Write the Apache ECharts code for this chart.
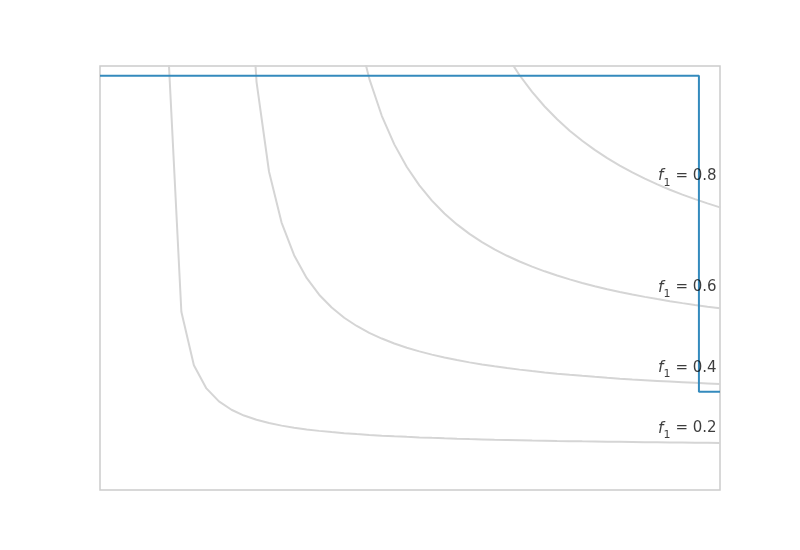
<!DOCTYPE html>
<html>
<head>
<meta charset="utf-8">
<script src="https://cdn.jsdelivr.net/npm/echarts@6/dist/echarts.min.js"></script>
<style>html,body{margin:0;padding:0;background:#fff}#chart{width:800px;height:550px}</style>
</head>
<body>
<div id="chart"></div>
<script>
// recall grid shared by the iso-F1 curves (50 samples from 0.01 to 1)
const recallGrid = [0.01,0.030204,0.050408,0.070612,0.090816,0.11102,0.131224,0.151429,0.171633,0.191837,
  0.212041,0.232245,0.252449,0.272653,0.292857,0.313061,0.333265,0.353469,0.373673,0.393878,
  0.414082,0.434286,0.45449,0.474694,0.494898,0.515102,0.535306,0.55551,0.575714,0.595918,
  0.616122,0.636327,0.656531,0.676735,0.696939,0.717143,0.737347,0.757551,0.777755,0.797959,
  0.818163,0.838367,0.858571,0.878776,0.89898,0.919184,0.939388,0.959592,0.979796,1.0];

// precision values of each iso-F1 curve (last N samples of the grid)
const iso02 = [1.0074,0.42026,0.29445,0.2396,0.20889,0.18925,0.17562,0.1656,0.15792,0.15185,0.14693,0.14287,
  0.13945,0.13654,0.13403,0.13184,0.12991,0.12821,0.12669,0.12532,0.12409,0.12297,0.12195,0.12102,0.12016,
  0.11937,0.11865,0.11797,0.11734,0.11675,0.1162,0.11569,0.11521,0.11475,0.11433,0.11392,0.11354,0.11318,
  0.11284,0.11252,0.11221,0.11191,0.11163,0.11137,0.11111];
const iso04 = [3.522,1.4405,0.96265,0.75057,0.63077,0.55379,0.50015,0.46064,0.43031,0.40632,0.38684,0.37073,
  0.35718,0.34562,0.33564,0.32694,0.31929,0.31251,0.30646,0.30103,0.29613,0.29167,0.28762,0.2839,0.28049,
  0.27735,0.27444,0.27174,0.26923,0.2669,0.26471,0.26266,0.26073,0.25893,0.25723,0.25562,0.2541,0.25266,
  0.2513,0.25];
const iso06 = [7.1907,3.0055,1.98321,1.52161,1.2587,1.08891,0.97021,0.88256,0.81519,0.76178,0.71841,0.68248,
  0.65224,0.62643,0.60414,0.5847,0.5676,0.55243,0.5389,0.52674,0.51575,0.50579,0.4967,0.48838,0.48074,
  0.47369,0.46717,0.46113,0.4555,0.45026,0.44535,0.44076,0.43645,0.43239,0.42857];
const iso08 = [11.762,5.0667,3.3363,2.5421,2.086,1.79008,1.58251,1.42887,1.31057,1.21667,1.14032,1.07703,
  1.02371,0.97817,0.93883,0.9045,0.87429,0.84749,0.82356,0.80205,0.78263,0.76499,0.74891,0.73419,0.72065,
  0.70818,0.69663,0.68592,0.67596,0.66667];

const isoNames = ['0.2','0.4','0.6','0.8'];
const isoCurves = [iso02, iso04, iso06, iso08];
// annotation anchor for each curve (recall, precision)
const labelRecall = [0.9, 0.9, 0.9, 0.9];
const labelPrecision = [0.13221, 0.27562, 0.46535, 0.72818];

// precision-recall step curve
const prRecall = [0, 0.966, 0.966, 1.0];
const prPrecision = [0.977, 0.977, 0.232, 0.232];

const FONT = 'DejaVu Sans';
const TXT = '#0d0d0d';
const series = [];
isoCurves.forEach((ys, k) => {
  const xs = recallGrid.slice(recallGrid.length - ys.length);
  series.push({
    type: 'line', name: 'f1=' + isoNames[k], data: xs.map((x, i) => [x, ys[i]]),
    showSymbol: false, symbol: 'none', clip: true, z: 1, silent: true,
    lineStyle: { color: '#d5d5d5', width: 2 }
  });
});
series.push({
  type: 'line', name: 'PR', data: prRecall.map((r, i) => [r, prPrecision[i]]),
  showSymbol: false, symbol: 'none', clip: true, z: 2, silent: true,
  lineStyle: { color: '#348ABD', width: 2 }
});
series.push({
  type: 'scatter', name: 'labels', z: 5, silent: true, symbolSize: 0,
  data: labelRecall.map((r, i) => ({ value: [r, labelPrecision[i]], name: isoNames[i] })),
  label: {
    show: true, position: [0, 0], align: 'left', verticalAlign: 'bottom', offset: [0, 7],
    formatter: p => '{i|f}{s|1}{n|= ' + p.name + '}',
    rich: {
      i: { fontFamily: FONT, fontStyle: 'italic', fontSize: 15.5, color: TXT, lineHeight: 15, verticalAlign: 'top' },
      s: { fontFamily: FONT, fontSize: 11, color: TXT, lineHeight: 20, verticalAlign: 'bottom', padding: [0, 5, 0, 0] },
      n: { fontFamily: FONT, fontSize: 15, color: TXT, lineHeight: 15, verticalAlign: 'top' }
    }
  }
});

const chart = echarts.init(document.getElementById('chart'), null, { renderer: 'canvas' });
chart.setOption({
  animation: false,
  backgroundColor: '#ffffff',
  grid: { left: 100, right: 80, top: 66, bottom: 60, show: true, borderColor: '#cccccc', borderWidth: 1.5, backgroundColor: 'transparent' },
  xAxis: { type: 'value', min: 0, max: 1, show: false },
  yAxis: { type: 'value', min: 0, max: 1, show: false },
  series: series
});
</script>
</body>
</html>
